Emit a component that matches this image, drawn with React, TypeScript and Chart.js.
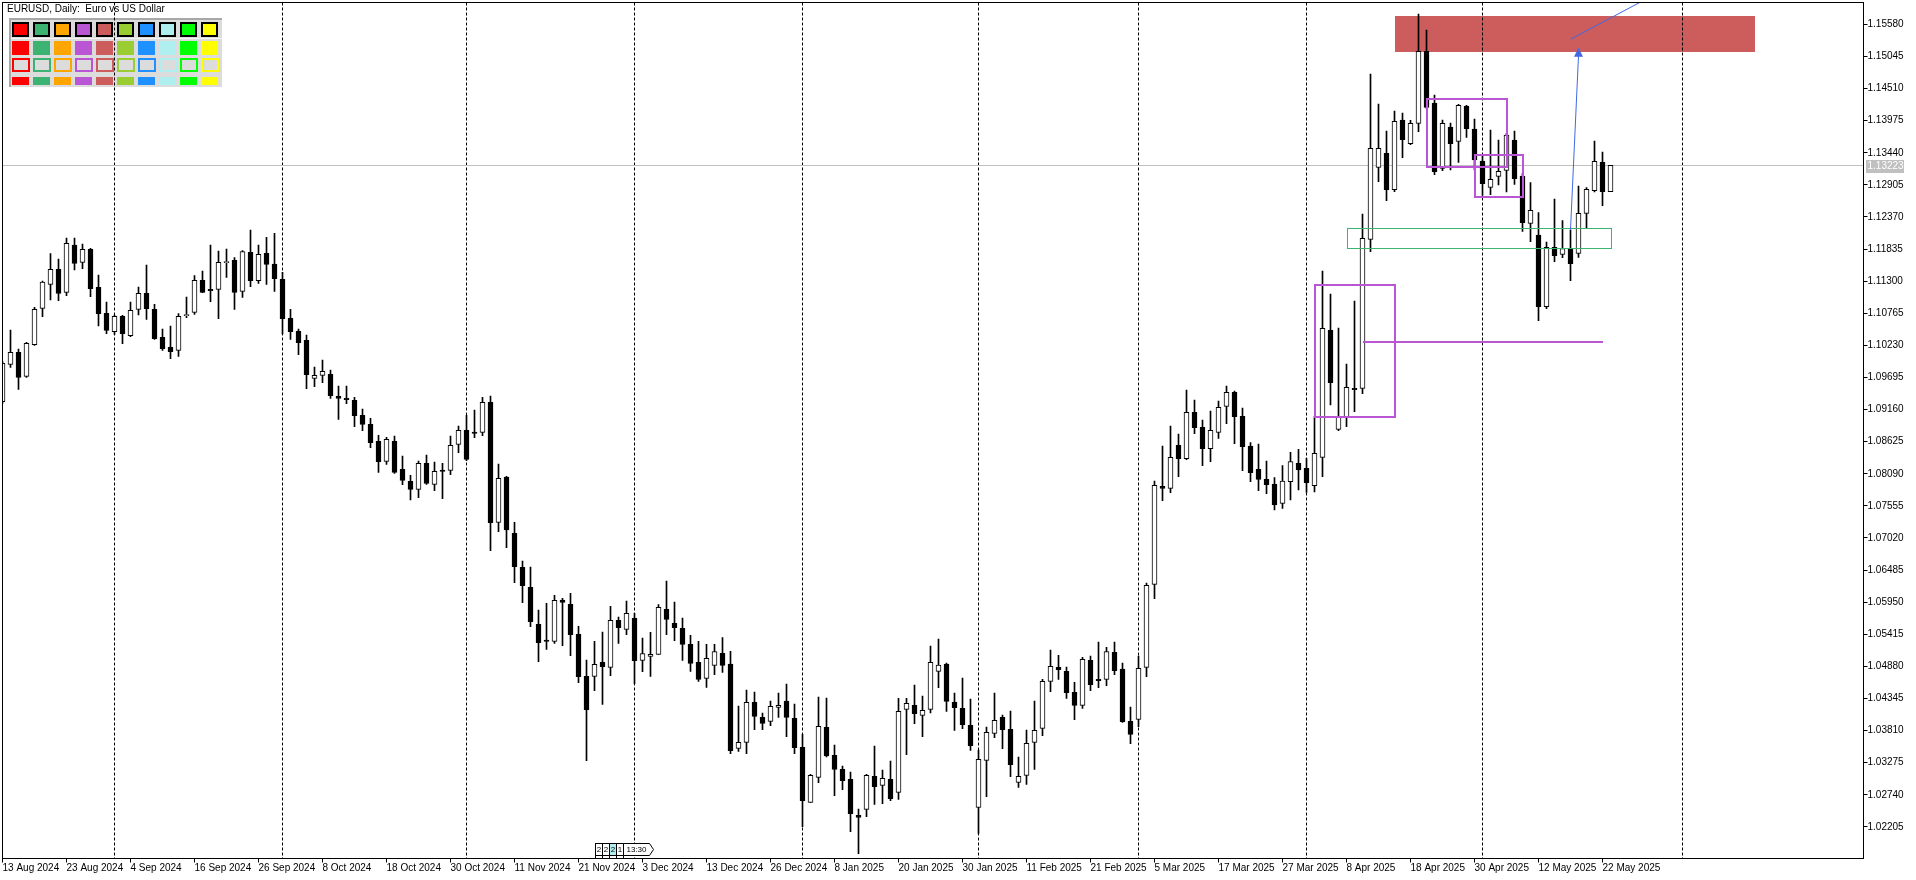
import React, { useEffect, useRef } from 'react';
import { Chart, registerables } from 'chart.js';

Chart.register(...registerables);

// ---------- data (EURUSD daily, bar 0 = 13 Aug 2024) ----------
const barOpen = [
  1.09292, 1.09914, 1.10114, 1.09714, 1.10242, 1.10848, 1.11248, 1.11498, 1.11114, 1.11903,
  1.11614, 1.11831, 1.11198, 1.10764, 1.10459, 1.10714, 1.10392, 1.10831, 1.11098, 1.10831,
  1.10364, 1.10198, 1.10148, 1.10726, 1.10781, 1.11314, 1.11164, 1.11164, 1.11609, 1.11648,
  1.11131, 1.11781, 1.11309, 1.11764, 1.11587, 1.11331, 1.10681, 1.10464, 1.10314, 1.09681,
  1.09731, 1.09748, 1.09381, 1.09348, 1.09314, 1.09064, 1.08914, 1.08631, 1.08298, 1.08631,
  1.08164, 1.07964, 1.07831, 1.08264, 1.07914, 1.08153, 1.08148, 1.08581, 1.08814, 1.08787,
  1.08781, 1.09281, 1.07281, 1.08037, 1.07098, 1.06531, 1.06198, 1.05581, 1.05320, 1.05298,
  1.05987, 1.05914, 1.05414, 1.04714, 1.04714, 1.04948, 1.04864, 1.05648, 1.05498, 1.05681,
  1.04981, 1.05048, 1.05081, 1.05831, 1.05598, 1.05515, 1.05248, 1.04948, 1.04681, 1.04898,
  1.05098, 1.04920, 1.03514, 1.03614, 1.04281, 1.04031, 1.03964, 1.04198, 1.04303, 1.04014,
  1.03531, 1.02614, 1.03031, 1.03864, 1.03398, 1.03164, 1.02998, 1.02398, 1.02498, 1.03048,
  1.02898, 1.02998, 1.02781, 1.04164, 1.04231, 1.04064, 1.04164, 1.04798, 1.04920, 1.04287,
  1.04181, 1.03898, 1.02531, 1.03314, 1.03764, 1.04031, 1.03831, 1.02948, 1.03064, 1.03614,
  1.03848, 1.04631, 1.04864, 1.04798, 1.04448, 1.04231, 1.04981, 1.04664, 1.04664, 1.05114,
  1.04837, 1.03964, 1.03998, 1.04864, 1.06248, 1.07881, 1.07848, 1.08564, 1.08342, 1.09114,
  1.08864, 1.08509, 1.08781, 1.09214, 1.09448, 1.09048, 1.08553, 1.08164, 1.07998, 1.07920,
  1.07598, 1.07959, 1.08264, 1.08181, 1.07892, 1.08364, 1.10481, 1.08831, 1.09042, 1.09514,
  1.09514, 1.11998, 1.13198, 1.13431, 1.12826, 1.13987, 1.13592, 1.13931, 1.15131, 1.14270,
  1.13181, 1.13870, 1.13631, 1.14220, 1.13837, 1.13303, 1.12864, 1.13048, 1.13148, 1.13653,
  1.13053, 1.12264, 1.12070, 1.10876, 1.11864, 1.11748, 1.11842, 1.11764, 1.12431, 1.12809,
  1.13281, 1.12792,
];
const barHigh = [
  1.09959, 1.10487, 1.10170, 1.10281, 1.10864, 1.11303, 1.11759, 1.11670, 1.12020, 1.12020,
  1.11920, 1.11848, 1.11403, 1.10953, 1.10737, 1.10731, 1.10953, 1.11203, 1.11570, 1.10914,
  1.10503, 1.10553, 1.10759, 1.11037, 1.11392, 1.11470, 1.11903, 1.11803, 1.11837, 1.11692,
  1.11809, 1.12153, 1.11903, 1.12031, 1.12098, 1.11448, 1.10831, 1.10503, 1.10403, 1.09870,
  1.09987, 1.09820, 1.09553, 1.09553, 1.09364, 1.09170, 1.09014, 1.08731, 1.08698, 1.08720,
  1.08387, 1.08064, 1.08303, 1.08403, 1.08287, 1.08264, 1.08720, 1.08887, 1.09064, 1.09153,
  1.09364, 1.09387, 1.08253, 1.08048, 1.07281, 1.06637, 1.06537, 1.05820, 1.05931, 1.06064,
  1.06014, 1.06098, 1.05548, 1.04987, 1.05298, 1.05453, 1.05881, 1.05703, 1.05969, 1.05764,
  1.05353, 1.05448, 1.05909, 1.06303, 1.05953, 1.05687, 1.05398, 1.05298, 1.05248, 1.05248,
  1.05359, 1.05131, 1.04220, 1.04487, 1.04453, 1.04103, 1.04303, 1.04437, 1.04587, 1.04253,
  1.03748, 1.03081, 1.04370, 1.04353, 1.03570, 1.03220, 1.03120, 1.02503, 1.03081, 1.03553,
  1.03153, 1.03303, 1.04348, 1.04348, 1.04570, 1.04387, 1.05220, 1.05337, 1.04937, 1.04437,
  1.04687, 1.04337, 1.03487, 1.03870, 1.04437, 1.04070, 1.04137, 1.03370, 1.03820, 1.04303,
  1.04664, 1.05153, 1.05064, 1.04870, 1.04614, 1.05031, 1.05053, 1.05287, 1.05198, 1.05287,
  1.04937, 1.04203, 1.05053, 1.06270, 1.07970, 1.08553, 1.08887, 1.08750, 1.09487, 1.09320,
  1.08987, 1.09137, 1.09303, 1.09553, 1.09470, 1.09187, 1.08609, 1.08587, 1.08303, 1.08026,
  1.08226, 1.08448, 1.08498, 1.08348, 1.09042, 1.11470, 1.11087, 1.10520, 1.09920, 1.10970,
  1.12420, 1.14753, 1.14253, 1.13803, 1.14137, 1.14103, 1.13981, 1.15753, 1.15487, 1.14403,
  1.13987, 1.13937, 1.14248, 1.14231, 1.14003, 1.13403, 1.13820, 1.13653, 1.13765, 1.13803,
  1.13098, 1.12942, 1.12442, 1.11953, 1.12670, 1.12309, 1.12153, 1.12887, 1.12859, 1.13637,
  1.13453, 1.13231,
];
const barLow = [
  1.09264, 1.09864, 1.09498, 1.09698, 1.10231, 1.10709, 1.10987, 1.10976, 1.11059, 1.11487,
  1.11509, 1.11042, 1.10553, 1.10426, 1.10414, 1.10259, 1.10376, 1.10737, 1.10664, 1.10331,
  1.10148, 1.10009, 1.10048, 1.10692, 1.10748, 1.11109, 1.10959, 1.10676, 1.11364, 1.10831,
  1.11031, 1.11209, 1.11264, 1.11248, 1.11131, 1.10420, 1.10331, 1.10076, 1.09509, 1.09542,
  1.09609, 1.09348, 1.08998, 1.09259, 1.08876, 1.08809, 1.08526, 1.08114, 1.08248, 1.08098,
  1.07909, 1.07653, 1.07692, 1.07914, 1.07809, 1.07676, 1.08076, 1.08442, 1.08309, 1.08692,
  1.08726, 1.06809, 1.07126, 1.06859, 1.06276, 1.05942, 1.05542, 1.04959, 1.05164, 1.05264,
  1.05226, 1.05059, 1.04609, 1.03309, 1.04476, 1.04248, 1.04726, 1.05264, 1.05409, 1.04592,
  1.04792, 1.04714, 1.05081, 1.05409, 1.05309, 1.04981, 1.04798, 1.04631, 1.04531, 1.04742,
  1.04781, 1.03426, 1.03464, 1.03426, 1.03826, 1.03826, 1.03892, 1.04031, 1.03709, 1.03426,
  1.02209, 1.02614, 1.02942, 1.03370, 1.02726, 1.02826, 1.02126, 1.01759, 1.02376, 1.02581,
  1.02592, 1.02642, 1.02664, 1.03409, 1.03926, 1.03709, 1.04103, 1.04526, 1.04131, 1.03814,
  1.03842, 1.03481, 1.02098, 1.02709, 1.03692, 1.03509, 1.03042, 1.02864, 1.02914, 1.03164,
  1.03726, 1.04459, 1.04664, 1.04348, 1.03992, 1.04181, 1.04476, 1.04526, 1.04559, 1.04742,
  1.03948, 1.03592, 1.03876, 1.04709, 1.06009, 1.07642, 1.07776, 1.08042, 1.08326, 1.08759,
  1.08226, 1.08292, 1.08681, 1.08926, 1.08592, 1.08142, 1.07959, 1.07809, 1.07759, 1.07487,
  1.07514, 1.07653, 1.07820, 1.07781, 1.07787, 1.08042, 1.09237, 1.08809, 1.08876, 1.09126,
  1.09426, 1.11792, 1.12959, 1.12642, 1.12792, 1.13359, 1.13576, 1.13792, 1.14181, 1.13076,
  1.13142, 1.13153, 1.13281, 1.13698, 1.13153, 1.12731, 1.12742, 1.12903, 1.12787, 1.12914,
  1.12131, 1.11959, 1.10642, 1.10842, 1.11626, 1.11692, 1.11309, 1.11698, 1.12181, 1.12787,
  1.12559, 1.12792,
];
const barClose = [
  1.09931, 1.10114, 1.09698, 1.10264, 1.10831, 1.11287, 1.11498, 1.11098, 1.11931, 1.11598,
  1.11831, 1.11176, 1.10759, 1.10481, 1.10714, 1.10426, 1.10814, 1.11098, 1.10842, 1.10342,
  1.10176, 1.10126, 1.10714, 1.10737, 1.11314, 1.11114, 1.11142, 1.11614, 1.11620, 1.11114,
  1.11792, 1.11309, 1.11748, 1.11581, 1.11342, 1.10676, 1.10459, 1.10276, 1.09742, 1.09731,
  1.09798, 1.09392, 1.09348, 1.09326, 1.09059, 1.08914, 1.08609, 1.08292, 1.08664, 1.08114,
  1.07981, 1.07831, 1.08264, 1.07931, 1.08131, 1.08131, 1.08564, 1.08814, 1.08331, 1.08764,
  1.09281, 1.07276, 1.08014, 1.07153, 1.06542, 1.06226, 1.05626, 1.05276, 1.05298, 1.05981,
  1.05948, 1.05409, 1.04709, 1.04159, 1.04914, 1.04876, 1.05648, 1.05526, 1.05764, 1.04976,
  1.05092, 1.05081, 1.05864, 1.05664, 1.05526, 1.05248, 1.04931, 1.04664, 1.05014, 1.05126,
  1.04898, 1.03476, 1.03614, 1.04281, 1.04048, 1.03931, 1.04214, 1.04231, 1.04031, 1.03526,
  1.02642, 1.03064, 1.03881, 1.03387, 1.03164, 1.02976, 1.02426, 1.02364, 1.03064, 1.02876,
  1.03014, 1.02676, 1.04131, 1.04264, 1.04092, 1.04148, 1.04948, 1.04903, 1.04298, 1.04192,
  1.03909, 1.03559, 1.03331, 1.03781, 1.03981, 1.03826, 1.03242, 1.03048, 1.03598, 1.03814,
  1.04631, 1.04881, 1.04826, 1.04442, 1.04231, 1.04998, 1.04576, 1.04642, 1.05126, 1.04809,
  1.03959, 1.03748, 1.04848, 1.06231, 1.07898, 1.07848, 1.08364, 1.08342, 1.09114, 1.08859,
  1.08509, 1.08814, 1.09198, 1.09448, 1.09042, 1.08542, 1.08109, 1.07998, 1.07909, 1.07570,
  1.07970, 1.08292, 1.08153, 1.07942, 1.08431, 1.10514, 1.09609, 1.09042, 1.09531, 1.09492,
  1.12014, 1.13514, 1.13514, 1.12826, 1.13964, 1.13659, 1.13931, 1.15131, 1.14198, 1.13126,
  1.13931, 1.13592, 1.14231, 1.13842, 1.13320, 1.12926, 1.12998, 1.13131, 1.13737, 1.13009,
  1.12276, 1.12481, 1.10876, 1.11864, 1.11726, 1.11842, 1.11592, 1.12431, 1.12831, 1.13298,
  1.12792, 1.13231,
];

const dateTickBars = [0, 8, 16, 24, 32, 40, 48, 56, 64, 72, 80, 88, 96, 104, 112, 120, 128, 136, 144, 152, 160, 168, 176, 184, 192, 200];
const dateTickLabels = [
  '13 Aug 2024', '23 Aug 2024', '4 Sep 2024', '16 Sep 2024', '26 Sep 2024', '8 Oct 2024',
  '18 Oct 2024', '30 Oct 2024', '11 Nov 2024', '21 Nov 2024', '3 Dec 2024', '13 Dec 2024',
  '26 Dec 2024', '8 Jan 2025', '20 Jan 2025', '30 Jan 2025', '11 Feb 2025', '21 Feb 2025',
  '5 Mar 2025', '17 Mar 2025', '27 Mar 2025', '8 Apr 2025', '18 Apr 2025', '30 Apr 2025',
  '12 May 2025', '22 May 2025',
];
const priceTicks = [
  1.02205, 1.0274, 1.03275, 1.0381, 1.04345, 1.0488, 1.05415, 1.0595, 1.06485, 1.0702,
  1.07555, 1.0809, 1.08625, 1.0916, 1.09695, 1.1023, 1.10765, 1.113, 1.11835, 1.1237,
  1.12905, 1.1344, 1.13975, 1.1451, 1.15045, 1.1558,
];
const monthStartBars = [14, 35, 58, 79, 100, 122, 142, 163, 185, 210];
const lastPrice = 1.13223;
const priceMin = 1.016783;
const priceMax = 1.15945;
const barMax = 232.625;

// chart objects (bar index / price)
const supplyZone = { from: 174, to: 219, top: 1.1572, bottom: 1.15125 };
const purpleBoxes = [
  { from: 164, to: 174, top: 1.11237, bottom: 1.09042 },
  { from: 178, to: 188, top: 1.14337, bottom: 1.13208 },
  { from: 184, to: 190, top: 1.13408, bottom: 1.12708 },
];
const greenBox = { from: 168, to: 201, top: 1.12182, bottom: 1.11845 };
const purpleLevel = { from: 170, to: 200, price: 1.10287 };
const blueArrow = { fromBar: 196, fromPrice: 1.12153, toBar: 197, toPrice: 1.15192 };
const blueRay = { fromBar: 196, fromPrice: 1.15332, toBar: 205, toPrice: 1.1597 };

const paletteColors = ['#FF0000', '#3CB371', '#FFA500', '#BA55D3', '#CD5C5C', '#9ACD32', '#1E90FF', '#AFEEEE', '#00FF00', '#FFFF00'];
const eventCounts = ['2', '2', '2', '1'];
const eventTime = '13:30';
const eventBar = 74.1;
const titleText = 'EURUSD, Daily:  Euro vs US Dollar';

const FONT = '"Liberation Sans", Arial, sans-serif';

function drawPalette(ctx: CanvasRenderingContext2D) {
  ctx.fillStyle = '#DCDCDC';
  ctx.fillRect(9, 18, 213, 69);
  ctx.fillStyle = '#A8A8A8';
  ctx.fillRect(9, 18, 213, 2);
  ctx.fillRect(9, 18, 2, 69);
  ctx.fillStyle = '#F4F4F4';
  ctx.fillRect(11, 38, 211, 1);
  paletteColors.forEach((c, k) => {
    const cx = 12 + 21 * k;
    ctx.fillStyle = '#000';
    ctx.fillRect(cx, 22, 17, 15);
    ctx.fillStyle = c;
    ctx.fillRect(cx + 2, 24, 13, 11);
    ctx.fillStyle = c;
    ctx.fillRect(cx, 41, 17, 14);
    ctx.fillStyle = c;
    ctx.fillRect(cx, 58, 18, 14);
    ctx.fillStyle = '#DCDCDC';
    ctx.fillRect(cx + 2, 60, 14, 10);
    ctx.fillStyle = c;
    ctx.fillRect(cx, 77, 17, 8);
  });
}

const mt5Plugin = {
  id: 'mt5overlay',
  beforeDraw(chart: any) {
    const { ctx, width, height } = chart;
    ctx.save();
    ctx.fillStyle = '#FFFFFF';
    ctx.fillRect(0, 0, width, height);
    ctx.restore();
  },
  beforeDatasetsDraw(chart: any) {
    const { ctx, chartArea: a, scales } = chart;
    const x = scales.x, y = scales.y;
    ctx.save();
    ctx.beginPath();
    ctx.rect(a.left, a.top, a.right - a.left, a.bottom - a.top);
    ctx.clip();
    const zx1 = x.getPixelForValue(supplyZone.from), zx2 = x.getPixelForValue(supplyZone.to);
    const zy1 = Math.round(y.getPixelForValue(supplyZone.top)), zy2 = Math.round(y.getPixelForValue(supplyZone.bottom));
    ctx.fillStyle = '#CD5C5C';
    ctx.fillRect(Math.round(zx1), zy1, Math.round(zx2) - Math.round(zx1), zy2 - zy1);
    drawPalette(ctx);
    ctx.fillStyle = '#000';
    ctx.font = `10px ${FONT}`;
    ctx.textBaseline = 'middle';
    ctx.textAlign = 'left';
    ctx.fillText(titleText, 7, 9.5);
    ctx.strokeStyle = '#000';
    ctx.lineWidth = 1;
    ctx.setLineDash([3, 2]);
    for (const b of monthStartBars) {
      const px = Math.round(x.getPixelForValue(b) - 0.5) + 0.5;
      ctx.beginPath();
      ctx.moveTo(px, a.top);
      ctx.lineTo(px, a.bottom);
      ctx.stroke();
    }
    ctx.setLineDash([]);
    const ly = Math.round(y.getPixelForValue(lastPrice) - 0.5) + 0.5;
    ctx.strokeStyle = '#C0C0C0';
    ctx.beginPath();
    ctx.moveTo(a.left, ly);
    ctx.lineTo(a.right, ly);
    ctx.stroke();
    ctx.restore();
  },
  afterDatasetsDraw(chart: any) {
    const { ctx, chartArea: a, scales } = chart;
    const x = scales.x, y = scales.y;
    const X = (v: number) => x.getPixelForValue(v);
    const Y = (v: number) => y.getPixelForValue(v);
    ctx.save();
    ctx.beginPath();
    ctx.rect(a.left, a.top, a.right - a.left, a.bottom - a.top);
    ctx.clip();
    ctx.strokeStyle = '#BA55D3';
    ctx.lineWidth = 2;
    for (const b of purpleBoxes) {
      const x1 = Math.round(X(b.from)), x2 = Math.round(X(b.to));
      const y1 = Math.round(Y(b.top)), y2 = Math.round(Y(b.bottom));
      ctx.strokeRect(x1, y1, x2 - x1, y2 - y1);
    }
    const ply = Math.round(Y(purpleLevel.price));
    ctx.beginPath();
    ctx.moveTo(Math.round(X(purpleLevel.from)), ply);
    ctx.lineTo(Math.round(X(purpleLevel.to)), ply);
    ctx.stroke();
    ctx.strokeStyle = '#3CB371';
    ctx.lineWidth = 1;
    {
      const x1 = Math.round(X(greenBox.from)) + 0.5, x2 = Math.round(X(greenBox.to)) + 0.5;
      const y1 = Math.round(Y(greenBox.top)) + 0.5, y2 = Math.round(Y(greenBox.bottom)) + 0.5;
      ctx.strokeRect(x1, y1, x2 - x1, y2 - y1);
    }
    ctx.strokeStyle = '#4169E1';
    ctx.fillStyle = '#4169E1';
    ctx.lineWidth = 1;
    const ax1 = X(blueArrow.fromBar), ay1 = Y(blueArrow.fromPrice);
    const ax2 = X(blueArrow.toBar), ay2 = Y(blueArrow.toPrice);
    ctx.beginPath();
    ctx.moveTo(ax1, ay1);
    ctx.lineTo(ax2, ay2 + 8);
    ctx.stroke();
    ctx.beginPath();
    ctx.moveTo(ax2, ay2);
    ctx.lineTo(ax2 - 4.5, ay2 + 9);
    ctx.lineTo(ax2 + 4.5, ay2 + 9);
    ctx.closePath();
    ctx.fill();
    ctx.beginPath();
    ctx.moveTo(X(blueRay.fromBar), Y(blueRay.fromPrice));
    ctx.lineTo(X(blueRay.toBar), Y(blueRay.toPrice));
    ctx.stroke();
    ctx.restore();
  },
  afterDraw(chart: any) {
    const { ctx, chartArea: a, scales } = chart;
    const x = scales.x, y = scales.y;
    ctx.save();
    ctx.strokeStyle = '#000';
    ctx.lineWidth = 1;
    ctx.strokeRect(a.left, a.top, a.right - a.left, a.bottom - a.top);
    const ly = Math.round(y.getPixelForValue(lastPrice));
    ctx.fillStyle = '#C0C0C0';
    ctx.fillRect(a.right + 2.5, ly - 6, 38, 13);
    ctx.fillStyle = '#FFFFFF';
    ctx.font = `10px ${FONT}`;
    ctx.textBaseline = 'middle';
    ctx.textAlign = 'left';
    ctx.fillText(lastPrice.toFixed(5), a.right + 4, ly + 0.5);
    const ex = Math.round(x.getPixelForValue(eventBar)) + 0.5;
    const top = 843.5, bot = 855.5;
    ctx.font = `8px ${FONT}`;
    ctx.textAlign = 'center';
    eventCounts.forEach((t, k) => {
      const bx = ex + 7 * k;
      ctx.fillStyle = k === 2 ? '#AFEEEE' : '#FFFFFF';
      ctx.fillRect(bx, top, 7, bot - top);
      ctx.strokeStyle = '#000';
      ctx.strokeRect(bx, top, 7, bot - top);
      ctx.beginPath();
      ctx.moveTo(bx, bot);
      ctx.lineTo(bx, a.bottom);
      ctx.stroke();
      ctx.fillStyle = '#000';
      ctx.fillText(t, bx + 3.5, (top + bot) / 2 + 0.5);
    });
    const tx = ex + 28;
    ctx.fillStyle = '#FFFFFF';
    ctx.beginPath();
    ctx.moveTo(tx, top);
    ctx.lineTo(tx + 26, top);
    ctx.lineTo(tx + 30, (top + bot) / 2);
    ctx.lineTo(tx + 26, bot);
    ctx.lineTo(tx, bot);
    ctx.closePath();
    ctx.fill();
    ctx.stroke();
    ctx.beginPath();
    ctx.moveTo(tx, bot);
    ctx.lineTo(tx, a.bottom);
    ctx.stroke();
    ctx.fillStyle = '#000';
    ctx.fillText(eventTime, tx + 13, (top + bot) / 2 + 0.5);
    ctx.restore();
  },
};

export default function App() {
  const ref = useRef<HTMLCanvasElement>(null);
  useEffect(() => {
    document.body.style.margin = '0';
    document.body.style.overflow = 'hidden';
    const canvas = ref.current;
    if (!canvas) return;
    const wickData = barHigh.map((h, i) => ({ x: i, y: [barLow[i], h] }));
    const bodyData = barOpen.map((o, i) => ({ x: i, y: [o, barClose[i]] }));
    const bodyColors = barOpen.map((o, i) => (barClose[i] >= o ? '#FFFFFF' : '#000000'));
    const chart = new Chart(canvas, {
      type: 'bar',
      data: {
        datasets: [
          {
            label: 'body',
            data: bodyData as any,
            backgroundColor: bodyColors,
            borderColor: '#000000',
            borderWidth: 1,
            borderSkipped: false,
            barThickness: 5,
            maxBarThickness: 5,
            minBarLength: 1,
            grouped: false,
            order: 1,
            clip: 0 as any,
          },
          {
            label: 'wick',
            data: wickData as any,
            backgroundColor: '#000000',
            borderWidth: 0,
            barThickness: 1,
            maxBarThickness: 1,
            minBarLength: 1,
            grouped: false,
            order: 2,
            clip: 0 as any,
          },
        ],
      },
      options: {
        responsive: false,
        animation: false,
        devicePixelRatio: 1,
        events: [],
        layout: { autoPadding: false, padding: { left: 2.5, top: 2.5, right: 0, bottom: 0 } },
        plugins: { legend: { display: false }, tooltip: { enabled: false } },
        scales: {
          x: {
            type: 'linear',
            min: 0,
            max: barMax,
            offset: false,
            bounds: 'data',
            grid: { display: true, drawOnChartArea: false, drawTicks: true, tickLength: 4, color: '#000', offset: false },
            border: { display: false },
            ticks: {
              autoSkip: false,
              maxRotation: 0,
              minRotation: 0,
              align: 'start',
              padding: 0,
              color: '#000',
              font: { family: FONT, size: 10 },
              callback: (v: any) => {
                const k = dateTickBars.indexOf(Math.round(Number(v)));
                return k >= 0 ? dateTickLabels[k] : '';
              },
            },
            afterBuildTicks: (axis: any) => {
              axis.ticks = dateTickBars.map((b) => ({ value: b }));
            },
            afterFit: (axis: any) => {
              axis.height = 21.5;
              axis.paddingLeft = 0;
              axis.paddingRight = 0;
              axis.paddingTop = 0;
              axis.paddingBottom = 0;
            },
          },
          y: {
            type: 'linear',
            position: 'right',
            min: priceMin,
            max: priceMax,
            beginAtZero: false,
            bounds: 'data',
            grid: { display: true, drawOnChartArea: false, drawTicks: true, tickLength: 4, color: '#000' },
            border: { display: false },
            ticks: {
              padding: 0,
              color: '#000',
              font: { family: FONT, size: 10 },
              callback: (v: any) => Number(v).toFixed(5),
            },
            afterBuildTicks: (axis: any) => {
              axis.ticks = priceTicks.map((p) => ({ value: p }));
            },
            afterFit: (axis: any) => {
              axis.width = 52.5;
              axis.paddingTop = 0;
              axis.paddingBottom = 0;
              axis.paddingLeft = 0;
              axis.paddingRight = 0;
            },
          },
        },
      } as any,
      plugins: [mt5Plugin as any],
    });
    return () => chart.destroy();
  }, []);
  return <canvas ref={ref} width={1916} height={880} style={{ display: 'block', width: 1916, height: 880 }} />;
}
